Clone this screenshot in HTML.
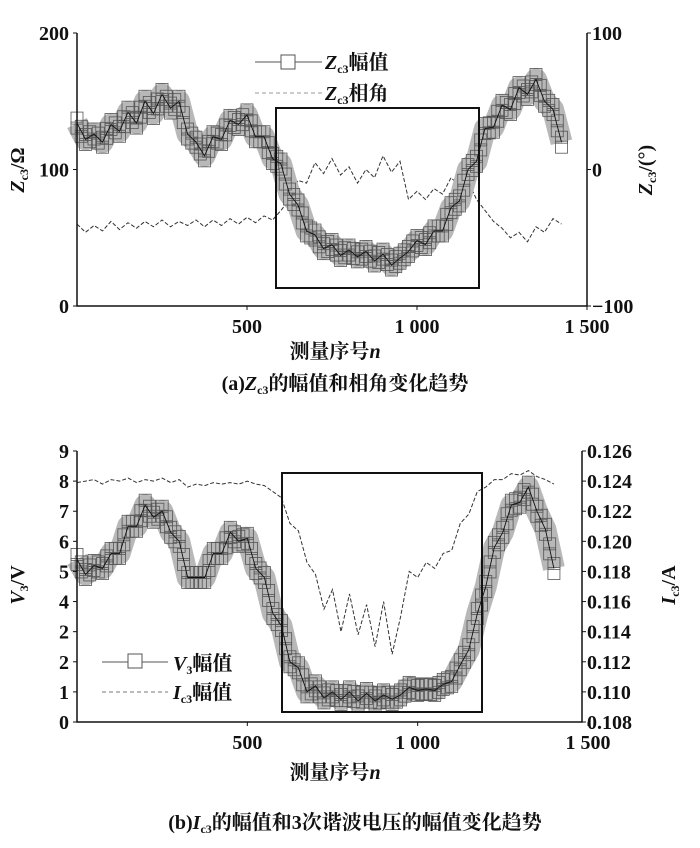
<!DOCTYPE html>
<html><head><meta charset="utf-8"><style>
body{margin:0;background:#fff;}
svg text{font-family:"Liberation Serif","Noto Serif CJK SC",serif;font-weight:bold;fill:#111;}
</style></head><body>
<svg id="s" width="700" height="843" viewBox="0 0 700 843" xmlns="http://www.w3.org/2000/svg"></svg>
<script>
const nA=[0,25,50,75,100,125,150,175,200,225,250,275,300,325,350,375,400,425,450,475,500,525,550,575,600,625,650,675,700,725,750,775,800,825,850,875,900,925,950,975,1000,1025,1050,1075,1100,1125,1150,1175,1200,1225,1250,1275,1300,1325,1350,1375,1400,1425];
const zMag=[134,122,126,120,133,128,142,134,150,141,155,145,150,126,120,110,124,122,136,133,140,124,124,108,104,82,74,55,52,42,45,37,41,36,40,33,38,30,35,40,48,45,55,55,72,77,100,106,130,131,147,144,160,155,166,150,144,120];
const zPh=[-40,-46,-41,-45,-38,-44,-39,-43,-38,-42,-37,-42,-38,-41,-37,-42,-37,-41,-36,-40,-35,-39,-34,-37,-30,-22,-8,-10,5,-3,8,-4,2,-10,0,-6,10,-2,6,-22,-16,-22,-14,-18,-6,-12,-8,-22,-30,-38,-43,-50,-46,-53,-42,-46,-36,-40];
const nB=[0,25,50,75,100,125,150,175,200,225,250,275,300,325,350,375,400,425,450,475,500,525,550,575,600,625,650,675,700,725,750,775,800,825,850,875,900,925,950,975,1000,1025,1050,1075,1100,1125,1150,1175,1200,1225,1250,1275,1300,1325,1350,1375,1400];
const v3=[5.4,4.9,5.2,5.1,5.6,5.6,6.5,6.5,7.2,6.8,7.0,6.3,6.0,4.8,4.8,4.8,5.6,5.6,6.3,6.0,6.1,5.1,4.8,3.6,3.2,2.0,1.8,1.0,1.2,0.8,1.0,0.75,1.0,0.7,0.95,0.7,0.9,0.75,0.9,1.15,1.05,1.1,1.05,1.25,1.35,1.9,2.4,3.6,4.5,5.8,6.3,7.2,7.3,7.8,7.0,6.4,5.1];
const ic3=[0.1239,0.1240,0.1241,0.1238,0.1241,0.1240,0.1242,0.1239,0.1241,0.1240,0.1242,0.1239,0.1241,0.1236,0.1238,0.1237,0.1239,0.1238,0.1239,0.1238,0.1240,0.1238,0.1237,0.1233,0.1229,0.1212,0.1207,0.1186,0.1178,0.1155,0.1168,0.1140,0.1165,0.1138,0.1158,0.1130,0.1160,0.1125,0.1150,0.1180,0.1176,0.1186,0.1182,0.1192,0.1194,0.1212,0.1218,0.1233,0.1236,0.1241,0.1241,0.1245,0.1244,0.1247,0.1243,0.1241,0.1238];
const xTicks=[500,1000,1500], xLab=["500","1 000","1 500"];
const NS="http://www.w3.org/2000/svg", S=document.getElementById('s');
function el(t,a,txt){const e=document.createElementNS(NS,t);for(const k in a)e.setAttribute(k,a[k]);if(txt!==undefined)e.textContent=txt;S.appendChild(e);return e;}
function panel(o){
 const X=n=>o.x0+(n/1500)*(o.x1500-o.x0);
 const YL=v=>o.yb-(v-o.lmin)/(o.lmax-o.lmin)*(o.yb-o.yt);
 const YR=v=>o.yb-(v-o.rmin)/(o.rmax-o.rmin)*(o.yb-o.yt);
 let d='';o.n.forEach((n,i)=>{d+=(i?'L':'M')+X(n).toFixed(1)+' '+YR(o.r[i]).toFixed(1);});
 let p=el('path',{d:d,fill:'none',stroke:'#333','stroke-width':1,'stroke-dasharray':'4 2'});
 
 let d2='';o.n.forEach((n,i)=>{d2+=(i?'L':'M')+X(n).toFixed(1)+' '+YL(o.l[i]).toFixed(1);});
 let b=el('path',{d:d2,fill:'none',stroke:'#b8b8b8','stroke-width':22,'stroke-linejoin':'round'});
 
 for(let i=0;i<o.n.length;i++){
  const pts=[[X(o.n[i]),YL(o.l[i])]];
  if(i<o.n.length-1)pts.push([(X(o.n[i])+X(o.n[i+1]))/2,(YL(o.l[i])+YL(o.l[i+1]))/2]);
  pts.forEach((q,j)=>{[-5,5].forEach(off=>{const r=el('rect',{x:q[0]-6,y:q[1]-6+off,width:12,height:12,fill:'none',stroke:'#555','stroke-width':0.8});
   });});
 }
 let l=el('path',{d:d2,fill:'none',stroke:'#111','stroke-width':0.9});
 
 el('path',{d:`M${o.x0} ${o.yt}V${o.yb}H${o.xr}V${o.yt}`,fill:'none',stroke:'#111','stroke-width':1.5,});
 o.lt.forEach(v=>{el('line',{x1:o.x0-4,x2:o.x0,y1:YL(v),y2:YL(v),stroke:'#111'});el('text',{x:o.x0-8,y:YL(v)+7,'text-anchor':'end','font-size':20,},o.ltl?o.ltl(v):v);});
 o.rt.forEach(v=>{el('line',{x1:o.xr,x2:o.xr+4,y1:YR(v),y2:YR(v),stroke:'#111'});el('text',{x:o.xr+5,y:YR(v)+7,'font-size':20,},o.rtl(v));});
 xTicks.forEach((v,i)=>{el('line',{x1:X(v),x2:X(v),y1:o.yb,y2:o.yb+4,stroke:'#111'});el('text',{x:X(v),y:o.yb+27,'text-anchor':'middle','font-size':20,},xLab[i]);});
 el('rect',Object.assign({fill:'none',stroke:'#111','stroke-width':2,},o.box));
}
panel({n:nA,l:zMag,r:zPh,x0:77,x1500:587,xr:587,yt:33,yb:306,lmin:0,lmax:200,rmin:-100,rmax:100,lt:[0,100,200],rt:[-100,0,100],rtl:v=>v<0?'−100':String(v),lname:'zc3-magnitude',rname:'zc3-phase',box:{x:276,y:108,width:203,height:180}});
panel({n:nB,l:v3,r:ic3,x0:77,x1500:588,xr:582,yt:451,yb:722,lmin:0,lmax:9,rmin:0.108,rmax:0.126,lt:[0,1,2,3,4,5,6,7,8,9],ltl:v=>v==3?'2':String(v),rt:[0.108,0.110,0.112,0.114,0.116,0.118,0.120,0.122,0.124,0.126],rtl:v=>v.toFixed(3),lname:'v3-magnitude',rname:'ic3-magnitude',box:{x:282,y:473,width:200,height:239}});
</script>
<svg width="700" height="843" style="position:absolute;left:0;top:0" xmlns="http://www.w3.org/2000/svg">
<g>
<line x1="255" y1="62" x2="322" y2="62" stroke="#555"/><rect x="281" y="55" width="14" height="14" fill="#fff" stroke="#555"/>
<text x="325" y="69" font-size="20"><tspan font-style="italic">Z</tspan><tspan font-size="12" dy="4">c3</tspan><tspan dy="-4">幅值</tspan></text>
<line x1="255" y1="93" x2="322" y2="93" stroke="#999" stroke-dasharray="4 3"/>
<text x="325" y="100" font-size="20"><tspan font-style="italic">Z</tspan><tspan font-size="12" dy="4">c3</tspan><tspan dy="-4">相角</tspan></text>
</g>
<g>
<line x1="102" y1="662" x2="168" y2="662" stroke="#555"/><rect x="128" y="654" width="14" height="14" fill="#fff" stroke="#555"/>
<text x="173" y="670" font-size="20"><tspan font-style="italic">V</tspan><tspan font-size="12" dy="4">3</tspan><tspan dy="-4">幅值</tspan></text>
<line x1="102" y1="692" x2="168" y2="692" stroke="#777" stroke-dasharray="4 3"/>
<text x="173" y="699" font-size="20"><tspan font-style="italic">I</tspan><tspan font-size="12" dy="4">c3</tspan><tspan dy="-4">幅值</tspan></text>
</g>
<text transform="translate(24,170) rotate(-90)" text-anchor="middle" font-size="20"><tspan font-style="italic">Z</tspan><tspan font-size="12" dy="4">c3</tspan><tspan dy="-4">/Ω</tspan></text>
<text transform="translate(652,170) rotate(-90)" text-anchor="middle" font-size="20"><tspan font-style="italic">Z</tspan><tspan font-size="12" dy="4">c3</tspan><tspan dy="-4">/(°)</tspan></text>
<text x="335" y="358" text-anchor="middle" font-size="20">测量序号<tspan font-style="italic">n</tspan></text>
<text x="345" y="390" text-anchor="middle" font-size="20">(a)<tspan font-style="italic">Z</tspan><tspan font-size="12" dy="4">c3</tspan><tspan dy="-4">的幅值和相角变化趋势</tspan></text>
<text transform="translate(24,585) rotate(-90)" text-anchor="middle" font-size="20"><tspan font-style="italic">V</tspan><tspan font-size="12" dy="4">3</tspan><tspan dy="-4">/V</tspan></text>
<text transform="translate(675,585) rotate(-90)" text-anchor="middle" font-size="20"><tspan font-style="italic">I</tspan><tspan font-size="12" dy="4">c3</tspan><tspan dy="-4">/A</tspan></text>
<text x="335" y="779" text-anchor="middle" font-size="20">测量序号<tspan font-style="italic">n</tspan></text>
<text x="355" y="829" text-anchor="middle" font-size="20">(b)<tspan font-style="italic">I</tspan><tspan font-size="12" dy="4">c3</tspan><tspan dy="-4">的幅值和3次谐波电压的幅值变化趋势</tspan></text>
</svg>
</body></html>
